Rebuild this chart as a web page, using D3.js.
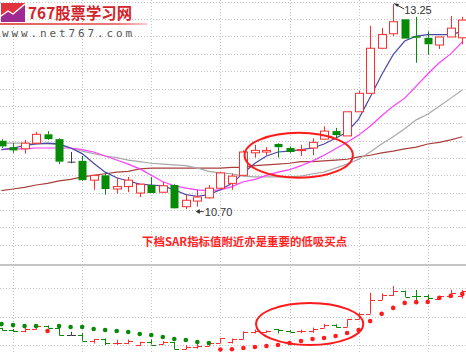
<!DOCTYPE html>
<html>
<head>
<meta charset="utf-8">
<script src="https://cdn.jsdelivr.net/npm/d3@7/dist/d3.min.js"></script>
<style>
body { margin: 0; background: #fff; }
svg { display: block; }
</style>
</head>
<body>
<div id="chart"></div>
<script>
// daily bars (index 0 = leftmost, partly cut candle)
const opens  = [11.55, 11.47, 11.45, 11.52, 11.63, 11.57, 11.29, 11.30, 11.06, 11.12,
                10.95, 10.98, 10.90, 11.00, 10.91, 11.00, 10.73, 10.80, 10.84, 10.96,
                11.02, 11.12, 11.40, 11.41, 11.51, 11.46, 11.43, 11.46, 11.57, 11.67,
                11.61, 11.91, 12.14, 12.70, 12.88, 13.06, 12.85, 12.83, 12.74, 12.84, 12.83];
const highs  = [11.57, 11.52, 11.56, 11.66, 11.67, 11.58, 11.41, 11.36, 11.12, 11.14,
                11.09, 11.10, 11.01, 11.10, 11.04, 11.01, 10.88, 10.94, 11.00, 11.16,
                11.14, 11.43, 11.50, 11.47, 11.52, 11.48, 11.50, 11.58, 11.73, 11.71,
                11.91, 12.17, 12.98, 12.95, 13.25, 13.06, 13.09, 12.91, 12.84, 13.10, 13.09];
const lows   = [11.46, 11.40, 11.39, 11.51, 11.56, 11.26, 11.27, 11.05, 10.94, 10.88,
                10.89, 10.91, 10.85, 10.90, 10.90, 10.72, 10.70, 10.73, 10.83, 10.95,
                10.94, 11.11, 11.34, 11.37, 11.34, 11.40, 11.36, 11.37, 11.57, 11.58,
                11.61, 11.91, 12.14, 12.69, 12.85, 12.82, 12.52, 12.62, 12.69, 12.84, 12.75];
const closes = [11.48, 11.43, 11.52, 11.63, 11.57, 11.29, 11.29, 11.06, 11.12, 10.95,
                10.98, 11.06, 11.01, 10.90, 10.99, 10.71, 10.81, 10.85, 10.96, 11.15,
                11.11, 11.41, 11.43, 11.43, 11.47, 11.41, 11.44, 11.53, 11.67, 11.62,
                11.91, 12.14, 12.70, 12.87, 13.03, 12.82, 12.83, 12.75, 12.84, 12.95, 13.05];

// moving averages as drawn
const ma5  = [11.44, 11.46, 11.49, 11.51, 11.52, 11.51, 11.46, 11.39, 11.27, 11.16,
              11.09, 11.05, 11.01, 11.00, 10.99, 10.94, 10.88, 10.86, 10.88, 10.94,
              11.02, 11.15, 11.27, 11.36, 11.41, 11.42, 11.44, 11.46, 11.51, 11.58,
              11.66, 11.82, 12.09, 12.37, 12.62, 12.79, 12.85, 12.87, 12.87, 12.87, 12.91];
const ma10 = [11.44, 11.45, 11.45, 11.46, 11.46, 11.46, 11.46, 11.44, 11.41, 11.36,
              11.31, 11.26, 11.20, 11.12, 11.04, 10.99, 10.96, 10.94, 10.93, 10.94,
              10.98, 11.04, 11.07, 11.12, 11.16, 11.19, 11.24, 11.30, 11.37, 11.45,
              11.53, 11.62, 11.73, 11.86, 11.98, 12.08, 12.23, 12.38, 12.52, 12.63, 12.78];
const ma20 = [11.52, 11.52, 11.52, 11.51, 11.51, 11.50, 11.46, 11.42, 11.39, 11.36,
              11.34, 11.31, 11.29, 11.27, 11.26, 11.25, 11.24, 11.21, 11.17, 11.15,
              11.14, 11.11, 11.10, 11.10, 11.10, 11.10, 11.11, 11.14, 11.16, 11.21,
              11.26, 11.32, 11.41, 11.51, 11.60, 11.70, 11.81, 11.88, 11.98, 12.08, 12.18];
const ma60 = [10.93, 10.95, 10.97, 11.00, 11.02, 11.05, 11.07, 11.10, 11.12, 11.14,
              11.16, 11.17, 11.20, 11.21, 11.21, 11.21, 11.21, 11.21, 11.21, 11.21,
              11.22, 11.22, 11.24, 11.25, 11.26, 11.27, 11.29, 11.29, 11.30, 11.31,
              11.32, 11.35, 11.37, 11.40, 11.42, 11.45, 11.47, 11.51, 11.53, 11.56, 11.60];

// SAR values and side (g = above price, r = below price)
const sar = [11.72, 11.68, 11.64, 11.64, 11.44, 11.64, 11.60, 11.60, 11.52, 11.48,
             11.44, 11.40, 11.32, 11.28, 11.20, 11.12, 11.08, 11.00, 10.96, 10.70,
             10.71, 10.76, 10.80, 10.84, 10.88, 10.96, 11.04, 11.12, 11.16, 11.24,
             11.36, 11.48, 11.84, 12.13, 12.37, 12.57, 12.60, 12.61, 12.77, 12.85, 12.93];
const sarSide = ["g","g","g","g","r","g","g","g","g","g",
                 "g","g","g","g","g","g","g","g","g","r",
                 "r","r","r","r","r","r","r","r","r","r",
                 "r","r","r","r","r","r","r","r","r","r","r"];

const gridDays = [1, 7, 13, 19, 25, 31, 37];
const noteText = "下档SAR指标值附近亦是重要的低吸买点";

const bars = opens.map((o, i) => ({ i: i, o: o, h: highs[i], l: lows[i], c: closes[i] }));

const width = 466, height = 353;
const red = "#ff2d2d", green = "#078a07", doji = "#3a3a3a";

const svg = d3.select("#chart").append("svg")
    .attr("width", width)
    .attr("height", height);

const x = d3.scaleLinear().domain([0, 40]).range([1.5, 462.3]);
const y = d3.scaleLinear().domain([10.03, 13.30]).range([263, 0]);
const y2 = d3.scaleLinear().domain([10.56, 14.09]).range([353, 265]);
const gy = d3.scaleLinear().domain([0, 15]).range([1.7, 262.1]);
const gy2 = d3.scaleLinear().domain([0, 3]).range([259.3, 345.4]);

const barColor = d => d.c > d.o ? red : (d.c < d.o ? green : doji);

// grid
const grid = svg.append("g")
    .attr("stroke", "#c4c4c4")
    .attr("stroke-dasharray", "1,2");

grid.selectAll(".hg")
    .data(d3.range(0, 15))
    .enter().append("line")
    .attr("x1", 0).attr("x2", width)
    .attr("y1", d => Math.round(gy(d)) + 0.5)
    .attr("y2", d => Math.round(gy(d)) + 0.5);

grid.selectAll(".hg2")
    .data([1, 2, 3])
    .enter().append("line")
    .attr("x1", 0).attr("x2", width)
    .attr("y1", d => Math.round(gy2(d)) + 0.5)
    .attr("y2", d => Math.round(gy2(d)) + 0.5);

grid.selectAll(".vg")
    .data(gridDays)
    .enter().append("line")
    .attr("x1", d => Math.round(x(d)) + 0.5)
    .attr("x2", d => Math.round(x(d)) + 0.5)
    .attr("y1", 0).attr("y2", height);

// panel separator
svg.append("rect")
    .attr("x", 0).attr("y", 264)
    .attr("width", width).attr("height", 2)
    .attr("fill", "#c4c4c4");

// logo
const logo = svg.append("g");
logo.append("rect").attr("x", 1).attr("y", 3).attr("width", 24).attr("height", 19).attr("fill", "#e2343f");
logo.append("polygon").attr("points", "1,22 1,17 8,12 13,15 25,5 25,22").attr("fill", "#a02a94");
logo.append("polyline").attr("points", "1,16 8,11 13,14 25,4")
    .attr("fill", "none").attr("stroke", "#fff").attr("stroke-width", 1.4);
logo.append("text")
    .attr("x", 28).attr("y", 19)
    .attr("textLength", 104).attr("lengthAdjust", "spacingAndGlyphs")
    .style("font-family", "'Noto Sans CJK SC', sans-serif")
    .style("font-weight", "bold")
    .style("font-size", "16px")
    .attr("fill", "#d4232a")
    .text("767股票学习网");
const grad = svg.append("defs").append("linearGradient").attr("id", "uline");
grad.append("stop").attr("offset", "0%").attr("stop-color", "#e55a5a");
grad.append("stop").attr("offset", "80%").attr("stop-color", "#ec7a7a");
grad.append("stop").attr("offset", "100%").attr("stop-color", "#f8d0c8");
logo.append("rect").attr("x", 0).attr("y", 23).attr("width", 147).attr("height", 2).attr("fill", "url(#uline)");
logo.append("text")
    .attr("x", 2).attr("y", 37)
    .attr("textLength", 130).attr("lengthAdjust", "spacing")
    .style("font-family", "'DejaVu Sans Mono', monospace")
    .style("font-size", "11px")
    .attr("fill", "#555")
    .text("www.net767.com");

// moving averages
const maLine = arr => d3.line().x((d, i) => x(i)).y(d => y(d))(arr);
[[ma60, "#a8403c"], [ma20, "#a8a8a8"], [ma10, "#ff3cff"], [ma5, "#4848a8"]].forEach(m => {
    svg.append("path")
        .attr("d", maLine(m[0]))
        .attr("fill", "none")
        .attr("stroke", m[1])
        .attr("stroke-width", 1.2);
});

// candles
const candles = svg.append("g");
candles.selectAll(".wick-hi")
    .data(bars)
    .enter().append("line")
    .attr("x1", d => Math.round(x(d.i)) + 0.5)
    .attr("x2", d => Math.round(x(d.i)) + 0.5)
    .attr("y1", d => y(d.h))
    .attr("y2", d => y(Math.max(d.o, d.c)))
    .attr("stroke", barColor);
candles.selectAll(".wick-lo")
    .data(bars)
    .enter().append("line")
    .attr("x1", d => Math.round(x(d.i)) + 0.5)
    .attr("x2", d => Math.round(x(d.i)) + 0.5)
    .attr("y1", d => y(Math.min(d.o, d.c)))
    .attr("y2", d => y(d.l))
    .attr("stroke", barColor);
candles.selectAll(".body")
    .data(bars)
    .enter().append("rect")
    .attr("x", d => Math.round(x(d.i)) - 3.5)
    .attr("width", 8)
    .attr("y", d => y(Math.max(d.o, d.c)))
    .attr("height", d => Math.max(1, y(Math.min(d.o, d.c)) - y(Math.max(d.o, d.c))))
    .attr("fill", d => d.c > d.o ? "#fff" : barColor(d))
    .attr("stroke", barColor)
    .attr("stroke-width", d => d.c > d.o ? 1 : 0);

// high / low markers
const hiBar = bars[d3.maxIndex(highs)];
const loBar = bars[d3.minIndex(lows)];
svg.append("line")
    .attr("x1", x(hiBar.i) + 11).attr("y1", y(hiBar.h) + 5)
    .attr("x2", x(hiBar.i) + 1).attr("y2", y(hiBar.h) - 0.5)
    .attr("stroke", "#333");
svg.append("path")
    .attr("d", `M${x(hiBar.i) + 1},${y(hiBar.h) - 0.5}l5,0.5l-2,3z`)
    .attr("fill", "#333");
svg.append("text")
    .attr("x", x(hiBar.i) + 11).attr("y", y(hiBar.h) + 10)
    .style("font-family", "'Liberation Sans', Arial, sans-serif")
    .style("font-size", "11px")
    .attr("fill", "#333")
    .text(hiBar.h.toFixed(2));

svg.append("line")
    .attr("x1", x(loBar.i) + 11).attr("y1", y(loBar.l) + 2.5)
    .attr("x2", x(loBar.i) + 18).attr("y2", y(loBar.l) + 2.5)
    .attr("stroke", "#333");
svg.append("path")
    .attr("d", `M${x(loBar.i) + 10},${y(loBar.l) + 2.5}l4,-2.5l0,5z`)
    .attr("fill", "#333");
svg.append("text")
    .attr("x", x(loBar.i) + 19).attr("y", y(loBar.l) + 6.5)
    .style("font-family", "'Liberation Sans', Arial, sans-serif")
    .style("font-size", "11px")
    .attr("fill", "#333")
    .text(loBar.l.toFixed(2));

// annotation text
svg.append("text")
    .attr("x", x(21.1)).attr("y", y(10.24))
    .attr("text-anchor", "middle")
    .attr("textLength", 205).attr("lengthAdjust", "spacingAndGlyphs")
    .style("font-family", "'Noto Sans CJK SC', sans-serif")
    .style("font-weight", "bold")
    .style("font-size", "11.5px")
    .attr("fill", "#ff2424")
    .text(noteText);

// lower panel: OHLC bars
const us = svg.append("g");
us.selectAll(".hl")
    .data(bars)
    .enter().append("line")
    .attr("x1", d => Math.round(x(d.i)) + 0.5)
    .attr("x2", d => Math.round(x(d.i)) + 0.5)
    .attr("y1", d => y2(d.h))
    .attr("y2", d => y2(d.l))
    .attr("stroke", barColor);
us.selectAll(".op")
    .data(bars)
    .enter().append("line")
    .attr("x1", d => Math.round(x(d.i)) - 4)
    .attr("x2", d => Math.round(x(d.i)) + 0.5)
    .attr("y1", d => Math.round(y2(d.o)) + 0.5)
    .attr("y2", d => Math.round(y2(d.o)) + 0.5)
    .attr("stroke", barColor);
us.selectAll(".cl")
    .data(bars)
    .enter().append("line")
    .attr("x1", d => Math.round(x(d.i)) + 0.5)
    .attr("x2", d => Math.round(x(d.i)) + 5)
    .attr("y1", d => Math.round(y2(d.c)) + 0.5)
    .attr("y2", d => Math.round(y2(d.c)) + 0.5)
    .attr("stroke", barColor);

// SAR dots
svg.selectAll(".sar")
    .data(sar)
    .enter().append("circle")
    .attr("cx", (d, i) => x(i))
    .attr("cy", d => y2(d))
    .attr("r", 2.3)
    .attr("fill", (d, i) => sarSide[i] === "g" ? green : "#ff1c1c");

// ellipses
const rings = [
    { i0: 21.1, i1: 30.5, top: 11.65, bottom: 11.09, sc: y },
    { i0: 22.1, i1: 31.4, top: 12.57, bottom: 10.88, sc: y2 }
];
svg.selectAll(".ring")
    .data(rings)
    .enter().append("ellipse")
    .attr("cx", d => (x(d.i0) + x(d.i1)) / 2)
    .attr("cy", d => (d.sc(d.top) + d.sc(d.bottom)) / 2)
    .attr("rx", d => (x(d.i1) - x(d.i0)) / 2)
    .attr("ry", d => (d.sc(d.bottom) - d.sc(d.top)) / 2)
    .attr("fill", "none")
    .attr("stroke", "#ff1a1a")
    .attr("stroke-width", 2);
</script>
</body>
</html>
